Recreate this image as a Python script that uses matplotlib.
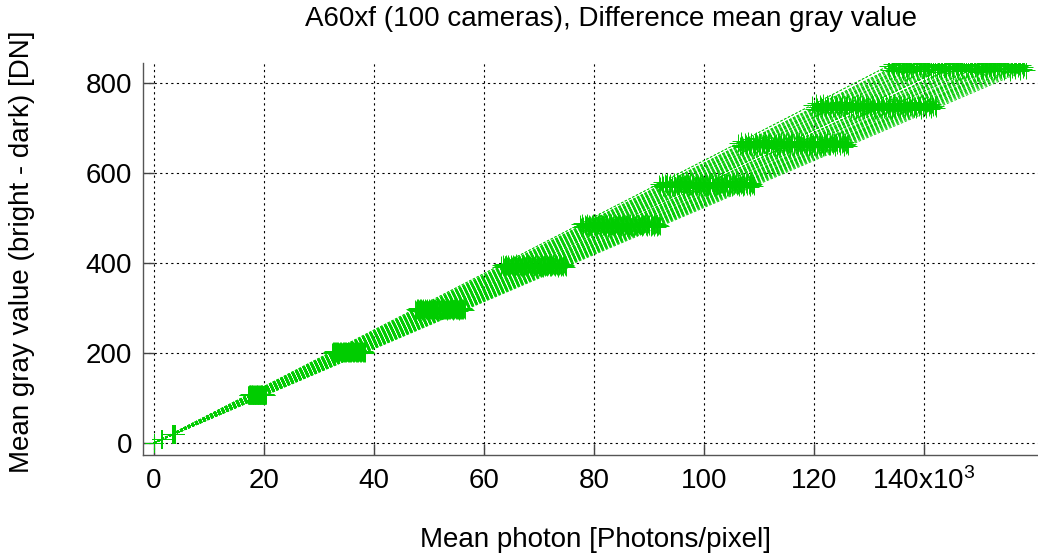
import matplotlib
matplotlib.use("Agg")
import matplotlib.pyplot as plt
import numpy as np

# Gray-value levels (bright - dark) [DN] measured at each exposure step
levels_dn = [0, 8, 20, 107, 202, 297, 394, 484, 574, 664, 748, 834]

# Per-camera conversion: photons per DN (100 cameras)
photons_per_dn = [
    160.0, 160.3, 160.8, 161.1, 161.3, 161.8, 162.1, 162.4, 162.6, 163.0,
    163.3, 163.5, 163.9, 164.2, 164.6, 164.8, 165.1, 165.5, 165.7, 166.0,
    166.4, 166.7, 166.9, 167.2, 167.6, 167.9, 168.1, 168.5, 168.8, 169.0,
    169.4, 169.7, 169.9, 170.3, 170.6, 170.8, 171.2, 171.5, 171.7, 172.1,
    172.4, 172.6, 173.0, 173.3, 173.5, 173.9, 174.2, 174.4, 174.8, 175.1,
    175.3, 175.7, 176.0, 176.2, 176.6, 176.9, 177.1, 177.5, 177.8, 178.0,
    178.4, 178.7, 178.9, 179.3, 179.6, 179.8, 180.2, 180.5, 180.7, 181.1,
    181.4, 181.6, 182.0, 182.3, 182.5, 182.9, 183.2, 183.4, 183.8, 184.1,
    184.3, 184.7, 185.0, 185.2, 185.6, 185.9, 186.1, 186.5, 186.8, 187.0,
    187.4, 187.7, 187.9, 188.3, 188.6, 188.8, 189.1, 189.4, 189.7, 190.1,
]

# Per-camera relative gray-value factor (small spread of reached levels)
gray_factor = [
    1.004, 0.993, 1.009, 0.998, 0.990, 1.006, 1.001, 0.995, 1.011, 0.997,
    0.992, 1.007, 1.000, 0.989, 1.003, 1.010, 0.996, 0.994, 1.008, 1.002,
    0.991, 1.005, 0.999, 1.012, 0.995, 0.990, 1.004, 1.007, 0.997, 1.001,
    0.993, 1.009, 0.996, 1.003, 0.988, 1.006, 1.000, 0.994, 1.010, 0.998,
    1.002, 0.992, 1.008, 0.995, 1.005, 0.999, 0.991, 1.011, 1.003, 0.996,
    0.990, 1.007, 1.001, 0.994, 1.009, 0.997, 1.004, 0.992, 1.006, 1.000,
    0.995, 1.010, 0.998, 0.989, 1.003, 1.008, 0.993, 1.002, 0.996, 1.011,
    0.991, 1.005, 0.999, 1.007, 0.994, 1.001, 0.990, 1.009, 0.997, 1.004,
    1.012, 0.995, 1.000, 0.992, 1.006, 0.998, 1.003, 0.989, 1.008, 0.996,
    1.002, 0.993, 1.010, 0.999, 1.005, 0.991, 1.007, 0.997, 1.001, 0.994,
]

x_ticks = [0, 20000, 40000, 60000, 80000, 100000, 120000, 140000]
x_tick_labels = ["0", "20", "40", "60", "80", "100", "120", "140x10$^{3}$"]
y_ticks = [0, 200, 400, 600, 800]
y_tick_labels = ["0", "200", "400", "600", "800"]

plt.rcParams["font.family"] = ["Liberation Sans", "DejaVu Sans"]
plt.rcParams["mathtext.fontset"] = "custom"
plt.rcParams["mathtext.rm"] = "Liberation Sans"
plt.rcParams["mathtext.default"] = "regular"

W, H = 1038, 557
fig = plt.figure(figsize=(W / 100, H / 100), dpi=100)
ax = fig.add_axes([143 / W, 1 - 455 / H, (1038 - 143) / W, (455 - 63) / H])

green = "#00cc00"
lv = np.array(levels_dn, dtype=float)
for k, f in zip(photons_per_dn, gray_factor):
    ax.plot(lv * k, lv * f, color=green, linestyle=(0, (3, 2)), linewidth=0.6,
            marker="+", markersize=13, markeredgewidth=0.7, zorder=3)

ax.set_xlim(-2000, 160700)
ax.set_ylim(-26.7, 844)

ax.set_xticks(x_ticks)
ax.set_xticklabels(x_tick_labels)
ax.set_yticks(y_ticks)
ax.set_yticklabels(y_tick_labels)

ax.tick_params(axis="both", direction="in", length=8, width=1, colors="#444444",
               labelsize=20, labelcolor="black")
ax.tick_params(axis="x", pad=9)
ax.tick_params(axis="y", pad=8)
ax.tick_params(top=False, right=False)

for s in ["top", "right"]:
    ax.spines[s].set_visible(False)
for s in ["left", "bottom"]:
    ax.spines[s].set_color("#555555")
    ax.spines[s].set_linewidth(1.0)

ax.grid(True, color="black", linestyle=(0, (2, 3)), linewidth=0.8, zorder=1)
ax.set_axisbelow(True)

fig.text(611 / W, 1 - 19 / H, "A60xf (100 cameras), Difference mean gray value",
         ha="center", va="center", fontsize=20)
fig.text(596 / W, 1 - 540 / H, "Mean photon [Photons/pixel]",
         ha="center", va="center", fontsize=20)
fig.text(22 / W, 1 - 252 / H, "Mean gray value (bright - dark) [DN]",
         ha="center", va="center", rotation=90, fontsize=20)

fig.savefig("out.png", dpi=100)
